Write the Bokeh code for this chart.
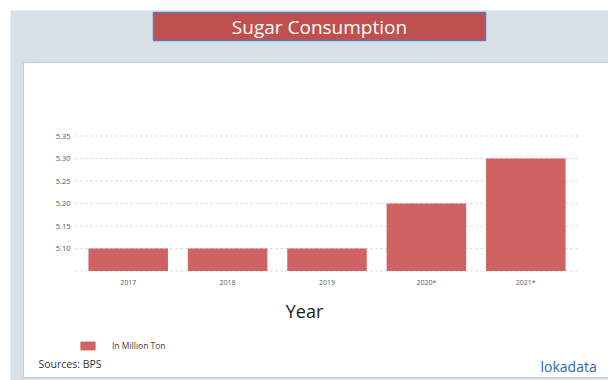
from bokeh.plotting import figure
from bokeh.models import (Range1d, FixedTicker, LinearAxis, Label, PrintfTickFormatter)
from bokeh.embed import file_html
from bokeh.resources import INLINE

# ---- data ----
years = ["2017", "2018", "2019", "2020*", "2021*"]
consumption = [5.10, 5.10, 5.10, 5.20, 5.30]
y_labels_ticks = [5.10, 5.15, 5.20, 5.25, 5.30, 5.35]
grid_ticks = [5.05, 5.10, 5.15, 5.20, 5.25, 5.30, 5.35]
base_value = 5.05
title_text = "Sugar Consumption"
x_title = "Year"
legend_text = "In Million Ton"
source_text = "Sources: BPS"
brand_text = "lokadata"

FONT = "Open Sans"
W, H = 608, 380

# category positions on a numeric scale (one unit per category)
x_pos = [i + 0.5 for i in range(len(years))]

# Frame covers the whole canvas; default ranges are page pixels (for the slide decoration),
# the chart uses its own extra ranges.
p = figure(width=W, height=H, output_backend="svg", toolbar_location=None,
           x_range=Range1d(0, W), y_range=Range1d(H, 0),
           x_axis_location=None, y_axis_location=None, min_border=0)
p.extra_x_ranges = {"cat": Range1d(-0.7847, 5.332)}
p.extra_y_ranges = {"val": Range1d(4.80667, 5.65111)}
p.border_fill_color = "white"
p.background_fill_color = "white"
p.outline_line_color = None
p.grid.visible = False

# ---- slide decoration (page pixels) ----
p.quad(left=[10], right=[W], top=[10], bottom=[H], fill_color="#d6e0e6", line_color=None)
p.quad(left=[23], right=[W + 10], top=[62], bottom=[377], fill_color="white",
       line_color="#c3ccd1", line_width=1)
p.quad(left=[153], right=[485], top=[12], bottom=[40], fill_color="#c0504d",
       line_color="#4f81bd", line_width=1.5)
p.add_layout(Label(x=319, y=26, text=title_text, text_align="center",
                   text_baseline="middle", text_color="white",
                   text_font=FONT, text_font_size="19px"))

# ---- dotted gridlines ----
p.segment(x0=-0.03, x1=len(years) + 0.03, y0=grid_ticks, y1=grid_ticks,
          x_range_name="cat", y_range_name="val",
          line_color="#cfcfcf", line_dash="2 3", line_width=1)

# ---- bars ----
p.vbar(x=x_pos, top=consumption, bottom=base_value, width=0.8,
       x_range_name="cat", y_range_name="val",
       fill_color="#cf6262", line_color=None, legend_label=legend_text)

# ---- axes ----
yax = LinearAxis(x_range_name="cat", y_range_name="val", fixed_location=0,
                 ticker=FixedTicker(ticks=y_labels_ticks),
                 formatter=PrintfTickFormatter(format="%.2f"))
yax.axis_line_color = None
yax.major_tick_line_color = None
yax.minor_tick_line_color = None
yax.major_tick_out = 0
yax.major_tick_in = 0
yax.major_label_standoff = 8
yax.major_label_text_font = FONT
yax.major_label_text_font_size = "7.5px"
yax.major_label_text_color = "#595959"
p.add_layout(yax, "left")

xax = LinearAxis(x_range_name="cat", y_range_name="val", fixed_location=base_value,
                 ticker=FixedTicker(ticks=x_pos),
                 major_label_overrides=dict(zip(x_pos, years)))
xax.axis_line_color = None
xax.major_tick_line_color = None
xax.minor_tick_line_color = None
xax.major_tick_out = 0
xax.major_tick_in = 0
xax.major_label_standoff = 7
xax.major_label_text_font = FONT
xax.major_label_text_font_size = "7px"
xax.major_label_text_color = "#595959"
xax.axis_label = x_title
xax.axis_label_standoff = 8
xax.axis_label_text_font = FONT
xax.axis_label_text_font_size = "18px"
xax.axis_label_text_font_style = "normal"
xax.axis_label_text_color = "#1a1a1a"
p.add_layout(xax, "below")

# ---- legend ----
lg = p.legend[0]
lg.location = (78, 29)
lg.padding = 0
lg.margin = 0
lg.border_line_color = None
lg.background_fill_alpha = 0
lg.glyph_width = 19
lg.glyph_height = 11
lg.label_standoff = 15
lg.label_text_font = FONT
lg.label_text_font_size = "8.5px"
lg.label_text_color = "#404040"

# ---- footer texts ----
p.add_layout(Label(x=38, y=363, text=source_text, text_align="left",
                   text_baseline="middle", text_color="#333333",
                   text_font=FONT, text_font_size="10.5px"))
p.add_layout(Label(x=540, y=366, text=brand_text, text_align="left",
                   text_baseline="middle", text_color="#2f66b0",
                   text_font=FONT, text_font_size="14px"))

open("out.html", "w").write(file_html(p, INLINE))
